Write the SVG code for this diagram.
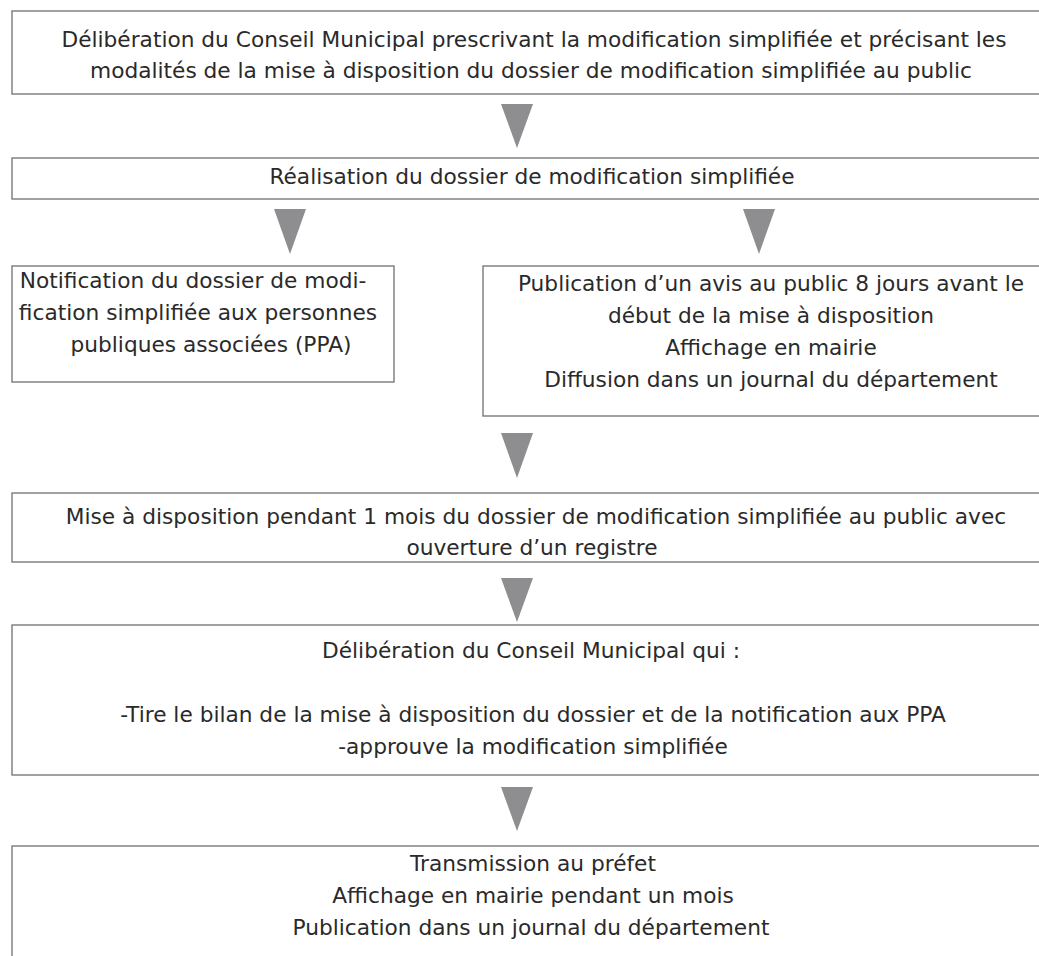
<svg xmlns="http://www.w3.org/2000/svg" width="1039" height="956" viewBox="0 0 1039 956">
<style>
.box{fill:#ffffff;stroke:#7a7a7a;stroke-width:1.4}
.t{font-family:"DejaVu Sans","Liberation Sans",sans-serif;font-size:21.7px;fill:#2a2a2a;text-anchor:middle}
.arr{fill:#8e8e91}
</style>
<rect width="1039" height="956" fill="#ffffff"/>
<g id="connectors">
<polygon class="arr" points="501,104 533,104 517,148"/>
<polygon class="arr" points="274,209 306,209 290,254"/>
<polygon class="arr" points="743,209 775,209 759,254"/>
<polygon class="arr" points="501,433 533,433 517,478"/>
<polygon class="arr" points="501,578 533,578 517,622"/>
<polygon class="arr" points="501,787 533,787 517,831"/>
</g>
<g id="n1">
<rect class="box" x="12" y="11" width="1060" height="83"/>
<text class="t" x="534" y="47">Délibération du Conseil Municipal prescrivant la modification simplifiée et précisant les</text>
<text class="t" x="531" y="78">modalités de la mise à disposition du dossier de modification simplifiée au public</text>
</g>
<g id="n2">
<rect class="box" x="12" y="158" width="1060" height="41"/>
<text class="t" x="532" y="184">Réalisation du dossier de modification simplifiée</text>
</g>
<g id="n3">
<rect class="box" x="12" y="266" width="382" height="116"/>
<text class="t" x="193" y="288">Notification du dossier de modi-</text>
<text class="t" x="198" y="320">fication simplifiée aux personnes</text>
<text class="t" x="211" y="352">publiques associées (PPA)</text>
</g>
<g id="n4">
<rect class="box" x="483" y="266" width="600" height="150"/>
<text class="t" x="771" y="291">Publication d’un avis au public 8 jours avant le</text>
<text class="t" x="771" y="323">début de la mise à disposition</text>
<text class="t" x="771" y="355">Affichage en mairie</text>
<text class="t" x="771" y="387">Diffusion dans un journal du département</text>
</g>
<g id="n5">
<rect class="box" x="12" y="493" width="1060" height="69"/>
<text class="t" x="536" y="524">Mise à disposition pendant 1 mois du dossier de modification simplifiée au public avec</text>
<text class="t" x="532" y="555">ouverture d’un registre</text>
</g>
<g id="n6">
<rect class="box" x="12" y="625" width="1060" height="150"/>
<text class="t" x="531" y="658">Délibération du Conseil Municipal qui :</text>
<text class="t" x="533" y="722">-Tire le bilan de la mise à disposition du dossier et de la notification aux PPA</text>
<text class="t" x="533" y="754">-approuve la modification simplifiée</text>
</g>
<g id="n7">
<rect class="box" x="12" y="846" width="1060" height="140"/>
<text class="t" x="533" y="871">Transmission au préfet</text>
<text class="t" x="533" y="903">Affichage en mairie pendant un mois</text>
<text class="t" x="531" y="935">Publication dans un journal du département</text>
</g>
</svg>
